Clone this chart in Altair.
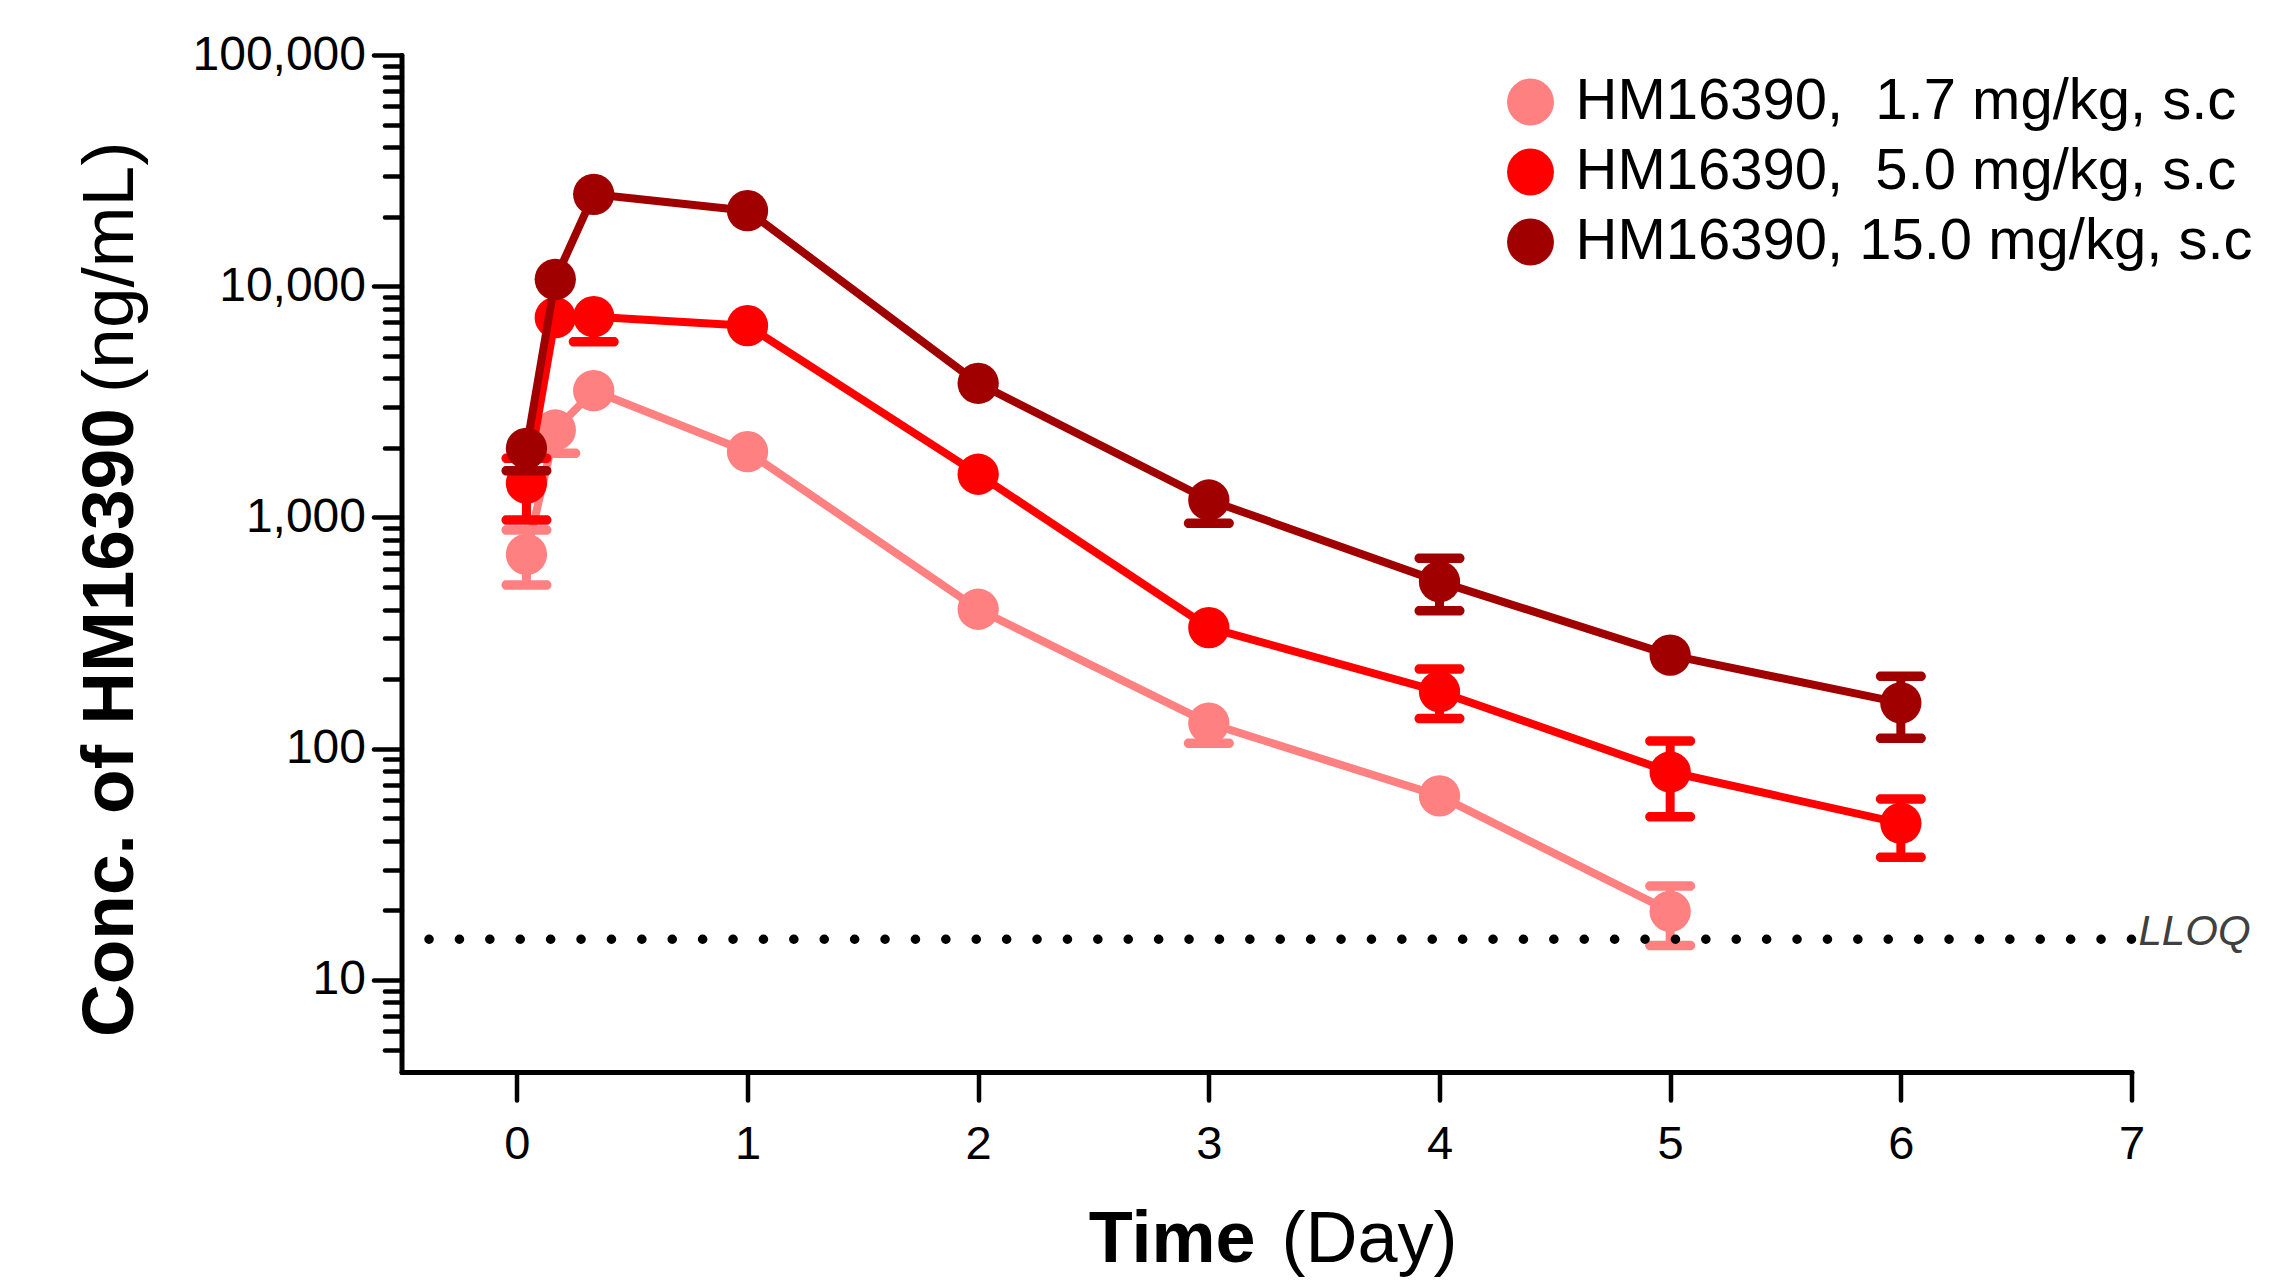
import altair as alt
import pandas as pd

# ---------------- data ----------------
times = [1/24, 4/24, 8/24, 1, 2, 3, 4, 5, 6]
doses = ["HM16390,\u00a0\u00a01.7 mg/kg, s.c",
         "HM16390,\u00a0\u00a05.0 mg/kg, s.c",
         "HM16390, 15.0 mg/kg, s.c"]
colors = ["#FF8080", "#FF0000", "#A00000"]

mean_17 = [693, 2390, 3535, 1926, 401, 129, 62.5, 19.8]
lo_17 = [511, 1895, None, None, None, 105.6, None, 14.1]
hi_17 = [883, None, None, None, None, None, None, 25.5]

mean_50 = [1406, 7311, 7384, 6752, 1538, 334, 176.5, 79.3, 47.6]
lo_50 = [976, None, 5757, None, None, None, 135, 50.8, 33.9]
hi_50 = [1803, None, None, None, None, None, 221, 108, 60.6]

mean_150 = [1992, 10715, 24980, 21220, 3805, 1190, 528, 254, 158]
lo_150 = [1594, None, None, None, None, 944, 395, None, 111]
hi_150 = [None, None, None, None, None, None, 666, None, 206]

lloq = 15
x_ticks = [0, 1, 2, 3, 4, 5, 6, 7]
y_major = [10, 100, 1000, 10000, 100000]
y_minor = [5, 6, 7, 8, 9] + [m * 10 ** k for k in range(1, 5) for m in range(2, 10)]

series = [(doses[0], colors[0], mean_17, lo_17, hi_17),
          (doses[1], colors[1], mean_50, lo_50, hi_50),
          (doses[2], colors[2], mean_150, lo_150, hi_150)]

FONT = "Liberation Sans"

# ---------------- scales / axes ----------------
xscale = alt.Scale(domain=[-0.5, 7], nice=False, zero=False)
yscale = alt.Scale(type="log", domain=[4, 100000], nice=False)

major_test = "indexof([10,100,1000,10000,100000], datum.value) >= 0"

xaxis = alt.Axis(values=x_ticks, title=None, format="d", labelFontSize=47, labelFont=FONT,
                 labelColor="black", labelPadding=21, labelAngle=0, labelFlush=False,
                 tickSize=28, tickWidth=4.5,
                 tickColor="black", tickCap="round", domainColor="black", domainWidth=5,
                 domainCap="round", grid=False, labelOverlap=False)
yaxis = alt.Axis(values=y_major + y_minor, title=None,
                 labelExpr=major_test + " ? format(datum.value, ',') : ''",
                 labelFontSize=48, labelFont=FONT, labelColor="black", labelPadding=8,
                 labelFlush=False,
                 tickSize={"condition": {"test": major_test, "value": 28}, "value": 17},
                 tickWidth=4.5, tickColor="black", tickCap="round", domainColor="black",
                 domainWidth=5, domainCap="round", grid=False, labelOverlap=False)


def X():
    return alt.X("t:Q", scale=xscale, axis=xaxis)


def Y(field):
    return alt.Y(field, type="quantitative", scale=yscale, axis=yaxis)


legend = alt.Legend(orient="none", legendX=1100, legendY=18, title=None, labelFontSize=58,
                    labelFont=FONT, labelColor="black", symbolType="circle", symbolSize=2200,
                    symbolStrokeWidth=0, symbolOpacity=1, labelOffset=16, rowPadding=12,
                    padding=0, labelLimit=0)

layers = []
for name, col, mean, lo, hi in series:
    df = pd.DataFrame({"t": times[:len(mean)], "v": mean, "dose": name})
    err_rows, cap_rows = [], []
    for t, m, l, h in zip(times, mean, lo, hi):
        if l is None and h is None:
            continue
        err_rows.append({"t": t, "y": l if l is not None else m, "y2": h if h is not None else m})
        if l is not None:
            cap_rows.append({"t": t, "c": l})
        if h is not None:
            cap_rows.append({"t": t, "c": h})
    err = pd.DataFrame(err_rows)
    caps = pd.DataFrame(cap_rows)
    layers.append(alt.Chart(err).mark_rule(color=col, strokeWidth=9).encode(
        x=X(), y=Y("y"), y2="y2"))
    layers.append(alt.Chart(caps).mark_tick(color=col, orient="horizontal", size=50, thickness=9.5,
                                            cornerRadius=4.75, opacity=1).encode(x=X(), y=Y("c")))
    layers.append(alt.Chart(df).mark_line(color=col, strokeWidth=8, strokeJoin="round").encode(
        x=X(), y=Y("v")))
    layers.append(alt.Chart(df).mark_point(filled=True, shape="circle", size=1706, opacity=1,
                                           strokeWidth=0).encode(
        x=X(), y=Y("v"),
        color=alt.Color("dose:N", scale=alt.Scale(domain=doses, range=colors), legend=legend)))

# LLOQ dotted line
lloq_df = pd.DataFrame({"v": [lloq]})
layers.append(alt.Chart(lloq_df).mark_rule(color="black", strokeWidth=9.5, strokeCap="round",
                                           strokeDash=[0.1, 30.3]).encode(y=Y("v")))

one = alt.Data(values=[{}])


def txt(s, x, y, **kw):
    return alt.Chart(one).mark_text(text=s, font=FONT, **kw).encode(x=alt.value(x), y=alt.value(y))


layers.append(txt("LLOQ", 1737, 890, fontSize=42, fontStyle="italic", color="#404040",
                  align="left", baseline="alphabetic"))
layers.append(txt("Time", 854, 1207, fontSize=72, fontWeight="bold", color="black",
                  align="right", baseline="alphabetic"))
layers.append(txt("(Day)", 880, 1207, fontSize=72, color="black",
                  align="left", baseline="alphabetic"))
layers.append(txt("Conc. of HM16390", -269, 982, fontSize=73, fontWeight="bold", color="black",
                  align="left", baseline="alphabetic", angle=270))
layers.append(txt("(ng/mL)", -269, 338, fontSize=73, color="black",
                  align="left", baseline="alphabetic", angle=270))

chart = alt.layer(*layers).properties(
    width=1730, height=1017,
    autosize=alt.AutoSizeParams(type="none"),
    padding={"left": 393.5, "top": 47, "right": 130.5, "bottom": 207},
    background="white",
).configure_view(strokeWidth=0)

chart.save("out.html", embed_options={"renderer": "svg", "actions": False})
